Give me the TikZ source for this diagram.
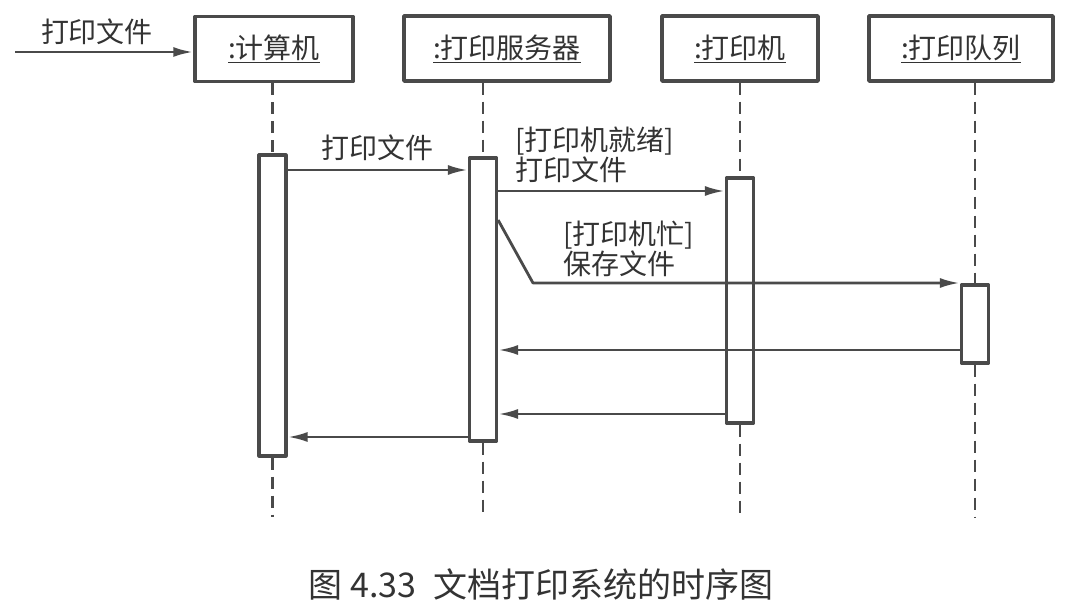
\documentclass[tikz,border=0pt]{standalone}
\usepackage{fontspec}
\newfontfamily\cjk{Noto Sans CJK SC}
\usetikzlibrary{arrows.meta}
\definecolor{linie}{HTML}{4A4A4A}
\definecolor{schrift}{HTML}{333333}

\begin{document}
\begin{tikzpicture}[x=1pt,y=-1pt,line join=round,
  txt/.style={text=schrift,font=\cjk\fontsize{28}{30}\selectfont,inner sep=0pt},
  objekt/.style={txt,draw=linie,line width=3.5pt,fill=white,minimum height=65pt},
  aktiv/.style={draw=linie,line width=3.2pt,fill=white,minimum width=27pt,inner sep=0pt},
  leben/.style={draw=linie,line width=2.8pt,dash pattern=on 12pt off 7pt},
  msg/.style={draw=linie,line width=2.8pt,-{Latex[length=20pt,width=10pt]}}]
\useasboundingbox[fill=white] (0,0) rectangle (1069,612);

%Objekte
\node[objekt,minimum width=158pt] (rechner) at (274,49) {\underline{:计算机}};
\node[objekt,minimum width=206pt] (server) at (507,48.5) {\underline{:打印服务器}};
\node[objekt,minimum width=156pt] (drucker) at (740,48.5) {\underline{:打印机}};
\node[objekt,minimum width=184pt] (warteschlange) at (961,48.5) {\underline{:打印队列}};
\coordinate (unten) at (0,517);

%Aktivierungen
\node[aktiv,minimum height=301pt] (a1) at (272.5,305.5) {};
\node[aktiv,minimum height=283pt] (a2) at (483,299.5) {};
\node[aktiv,minimum height=245pt] (a3) at (740,300.5) {};
\node[aktiv,minimum height=78pt] (a4) at (975,324) {};

%Lebenslinien
\draw[leben] (a1 |- rechner.south) -- (a1.north);
\draw[leben] (a1.south) -- (a1 |- unten);
\draw[leben] (a2 |- server.south) -- (a2.north);
\draw[leben] (a2.south) -- (a2 |- unten);
\draw[leben] (a3 |- drucker.south) -- (a3.north);
\draw[leben] (a3.south) -- (a3 |- unten);
\draw[leben] (a4 |- warteschlange.south) -- (a4.north);
\draw[leben] (a4.south) -- (a4 |- unten);

%Nachrichten
\coordinate (start) at (15,52);
\draw[msg] (start) -- (rechner.west |- start);
\node[txt] (eingang) at (97,32) {打印文件};

\draw[msg] (a1.east |- 0,170) -- node[txt,above=8pt] (m1) {打印文件} (a2.west |- 0,170);
\draw[msg] (a2.east |- 0,191) -- (a3.west |- 0,191);
\node[txt,anchor=north west,align=left] (m2) at (515,127) {[打印机就绪]\\打印文件};

\coordinate (knick) at (533,283);
\draw[msg] (a2.east |- 0,220) -- (knick) -- (a4.west |- knick);
\node[txt,anchor=north west,align=left] (m3) at (563,221) {[打印机忙]\\保存文件};

\draw[msg] (a4.west |- 0,350) -- (a2.east |- 0,350);
\draw[msg] (a3.west |- 0,414) -- (a2.east |- 0,414);
\draw[msg] (a2.west |- 0,437) -- (a1.east |- 0,437);

%Titel
\node[txt,font=\cjk\fontsize{34}{36}\selectfont] (titel) at (541,585) {图 4.33\enspace 文档打印系统的时序图};

\end{tikzpicture}
\end{document}
